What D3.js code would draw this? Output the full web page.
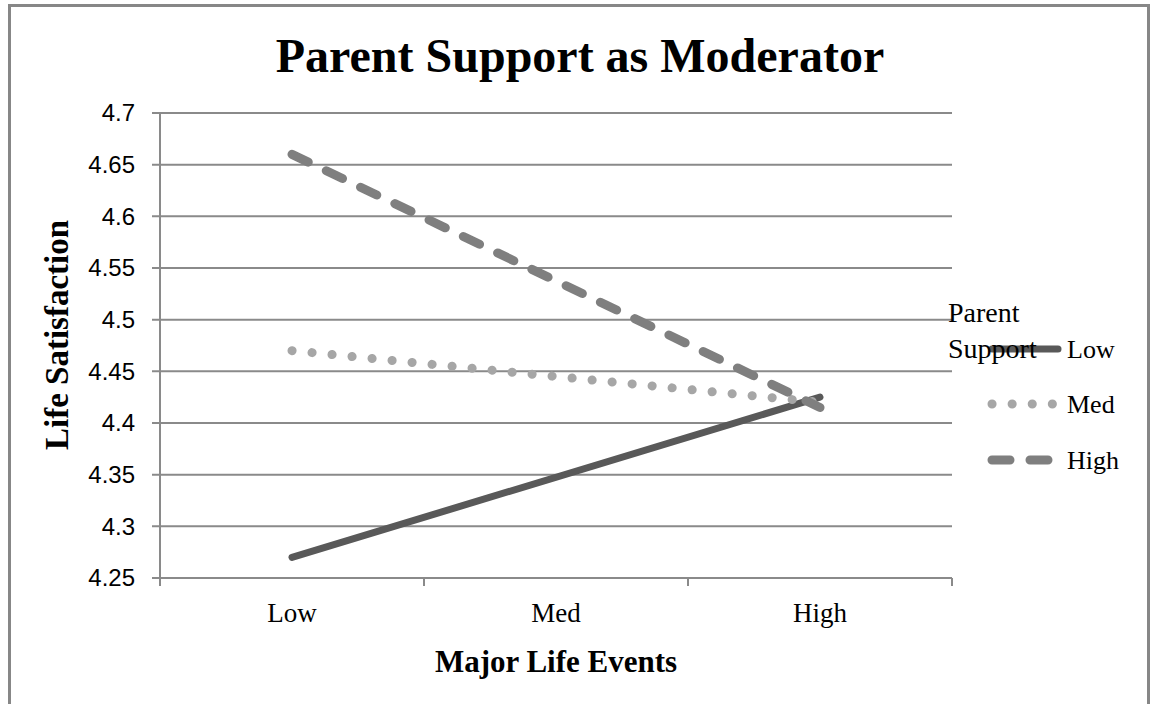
<!DOCTYPE html>
<html>
<head>
<meta charset="utf-8">
<script src="https://cdn.jsdelivr.net/npm/d3@7"></script>
<style>
  html, body { margin: 0; padding: 0; background: #fff; }
  svg { display: block; }
</style>
</head>
<body>
<svg id="chart" width="1151" height="704"></svg>
<script>
// ---- data ----
const categories = ["Low", "Med", "High"];          // Major Life Events
const pointCategories = ["Low", "High"];            // where the series are plotted
const lowSupport  = [4.27, 4.425];
const medSupport  = [4.47, 4.42];
const highSupport = [4.66, 4.415];
const seriesNames = ["Low", "Med", "High"];
const yTicks = [4.25, 4.3, 4.35, 4.4, 4.45, 4.5, 4.55, 4.6, 4.65, 4.7];
const yTickLabels = ["4.25", "4.3", "4.35", "4.4", "4.45", "4.5", "4.55", "4.6", "4.65", "4.7"];
const titleText = "Parent Support as Moderator";
const xTitle = "Major Life Events";
const yTitle = "Life Satisfaction";
const legendTitle = ["Parent", "Support"];

// ---- layout ----
const svg = d3.select("#chart");
const plot = { left: 160, right: 952, top: 113, bottom: 578 };
const serif = "'Liberation Serif', 'Times New Roman', serif";
const sans = "'Liberation Sans', Arial, sans-serif";
const gridColor = "#8a8a8a";

const x = d3.scaleBand().domain(categories).range([plot.left, plot.right]).padding(0);
const y = d3.scaleLinear().domain([4.25, 4.7]).range([plot.bottom, plot.top]);

// outer border
svg.append("rect")
  .attr("x", 9.5).attr("y", 5.5)
  .attr("width", 1139).attr("height", 740)
  .attr("fill", "none").attr("stroke", "#878787").attr("stroke-width", 3);

// title
svg.append("text")
  .attr("x", 580).attr("y", 72)
  .attr("text-anchor", "middle")
  .style("font-family", serif).style("font-weight", "bold").style("font-size", "48px")
  .text(titleText);

// gridlines
svg.append("g").selectAll("line").data(yTicks).join("line")
  .attr("x1", plot.left - 8).attr("x2", plot.right)
  .attr("y1", d => y(d)).attr("y2", d => y(d))
  .attr("stroke", gridColor).attr("stroke-width", 2);

// y axis
const yAxis = d3.axisLeft(y).tickValues(yTicks)
  .tickFormat((d, i) => yTickLabels[i]).tickSize(0).tickPadding(25);
const gy = svg.append("g").attr("transform", `translate(${plot.left},0)`).call(yAxis);
gy.select(".domain").remove();
gy.selectAll("text").style("font-family", sans).style("font-size", "24px").attr("fill", "#000");
svg.append("line")
  .attr("x1", plot.left).attr("x2", plot.left)
  .attr("y1", plot.top).attr("y2", plot.bottom)
  .attr("stroke", gridColor).attr("stroke-width", 2);

// x axis
const xAxis = d3.axisBottom(x).tickSize(0).tickPadding(25);
const gx = svg.append("g").attr("transform", `translate(0,${plot.bottom})`).call(xAxis);
gx.select(".domain").remove();
gx.selectAll("text").style("font-family", serif).style("font-size", "27px").attr("fill", "#000");
// x tick marks at band boundaries
const bounds = categories.map(c => x(c)).concat([x(categories[categories.length - 1]) + x.bandwidth()]);
svg.append("g").selectAll("line").data(bounds).join("line")
  .attr("x1", d => d).attr("x2", d => d)
  .attr("y1", plot.bottom).attr("y2", plot.bottom + 8)
  .attr("stroke", gridColor).attr("stroke-width", 2);

// axis titles
svg.append("text")
  .attr("x", 556).attr("y", 672)
  .attr("text-anchor", "middle")
  .style("font-family", serif).style("font-weight", "bold").style("font-size", "31px")
  .text(xTitle);
svg.append("text")
  .attr("transform", `translate(68,335) rotate(-90)`)
  .attr("text-anchor", "middle")
  .style("font-family", serif).style("font-weight", "bold").style("font-size", "33px")
  .text(yTitle);

// series
const styles = [
  { color: "#595959", width: 7, dash: null },
  { color: "#a6a6a6", width: 9, dash: "0.1 20" },
  { color: "#7f7f7f", width: 9, dash: "18 20" }
];
const allSeries = [lowSupport, medSupport, highSupport];
const line = d3.line()
  .x((d, i) => x(pointCategories[i]) + x.bandwidth() / 2)
  .y(d => y(d));

allSeries.forEach((vals, k) => {
  svg.append("path")
    .datum(vals)
    .attr("d", line)
    .attr("fill", "none")
    .attr("stroke", styles[k].color)
    .attr("stroke-width", styles[k].width)
    .attr("stroke-linecap", "round")
    .attr("stroke-dasharray", styles[k].dash);
});

// legend
const legendY = [349, 404, 460];
const lg = svg.append("g");
seriesNames.forEach((name, k) => {
  lg.append("line")
    .attr("x1", 992).attr("x2", 1058)
    .attr("y1", legendY[k]).attr("y2", legendY[k])
    .attr("stroke", styles[k].color)
    .attr("stroke-width", styles[k].width)
    .attr("stroke-linecap", "round")
    .attr("stroke-dasharray", styles[k].dash);
  lg.append("text")
    .attr("x", 1067).attr("y", legendY[k] + 9)
    .style("font-family", serif).style("font-size", "26px")
    .text(name);
});
legendTitle.forEach((t, i) => {
  lg.append("text")
    .attr("x", 948).attr("y", 322 + i * 36)
    .style("font-family", serif).style("font-size", "28px")
    .text(t);
});
</script>
</body>
</html>
